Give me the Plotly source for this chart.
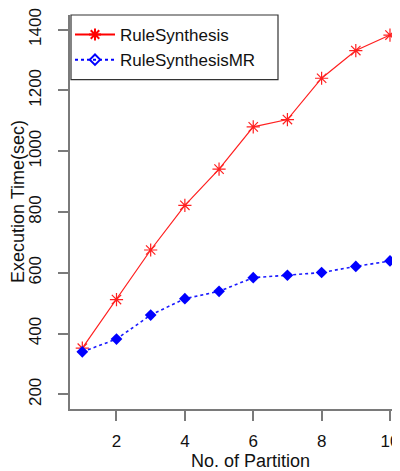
import plotly.graph_objects as go

partitions = [1, 2, 3, 4, 5, 6, 7, 8, 9, 10]
rule_synthesis = [352, 512, 675, 822, 941, 1080, 1104, 1240, 1331, 1382]
rule_synthesis_mr = [340, 382, 461, 515, 539, 584, 592, 601, 621, 639]
x_ticks = [2, 4, 6, 8, 10]
y_ticks = [200, 400, 600, 800, 1000, 1200, 1400]

FONT = "Liberation Sans, Arial, sans-serif"
AXIS_COLOR = "#7a7a7a"

fig = go.Figure()
fig.add_trace(go.Scatter(
    x=partitions, y=rule_synthesis, mode="lines+markers", name="RuleSynthesis",
    line=dict(color="#ff2020", width=1.2),
    marker=dict(symbol="asterisk-open", size=11, color="#ff2020", line=dict(color="#ff2020", width=1.2)),
    showlegend=False,
))
fig.add_trace(go.Scatter(
    x=partitions, y=rule_synthesis_mr, mode="lines+markers", name="RuleSynthesisMR",
    line=dict(color="#1a1aff", width=1.6, dash="dot"),
    marker=dict(symbol="diamond", size=9, color="#0000ff"),
    showlegend=False,
))
# legend entries (as in the reference legend)
fig.add_trace(go.Scatter(
    x=[None], y=[None], mode="lines+markers", name="RuleSynthesis",
    line=dict(color="#ff0000", width=2),
    marker=dict(symbol="asterisk-open", size=10, color="#ff0000", line=dict(color="#ff0000", width=2)),
))
fig.add_trace(go.Scatter(
    x=[None], y=[None], mode="lines+markers", name="RuleSynthesisMR",
    line=dict(color="#0000ff", width=2, dash="dot"),
    marker=dict(symbol="diamond-open", size=8, color="#0000ff", line=dict(color="#0000ff", width=2)),
))

# the page body has an 8px margin, so the figure is placed at (8, 8) in the window
OFF = 8
W, H = 400 - OFF, 471 - OFF
L, R, T, B = 70 - OFF, 0, 13 - OFF, 62
pw = W - L - R
ph = H - T - B


def px(xs):  # window x -> paper x
    return (xs - OFF - L) / pw


def py(ys):  # window y -> paper y
    return 1 - (ys - OFF - T) / ph


fig.update_layout(
    width=W, height=H,
    margin=dict(l=L, r=R, t=T, b=B, pad=0),
    paper_bgcolor="white", plot_bgcolor="white",
    font=dict(family=FONT, size=17, color="#111"),
    showlegend=True,
    legend=dict(
        x=px(70), y=py(15), xanchor="left", yanchor="top",
        bgcolor="rgba(0,0,0,0)", borderwidth=0,
        font=dict(family=FONT, size=17, color="#111"),
        itemwidth=40, tracegroupgap=0,
    ),
    xaxis=dict(
        range=[0.64, 10.293], tickvals=x_ticks, ticktext=[str(v) for v in x_ticks],
        showgrid=False, zeroline=False, showline=True, linecolor=AXIS_COLOR, linewidth=1.5,
        ticks="outside", ticklen=10, tickwidth=1.5, tickcolor=AXIS_COLOR,
        tickfont=dict(family=FONT, size=17, color="#111"), ticklabelstandoff=6,
        ticklabeloverflow="allow", fixedrange=True,
    ),
    yaxis=dict(
        range=[152, 1448], tickvals=y_ticks, ticktext=[str(v) for v in y_ticks],
        showgrid=False, zeroline=False, showline=True, linecolor=AXIS_COLOR, linewidth=1.5,
        ticks="outside", ticklen=10, tickwidth=1.5, tickcolor=AXIS_COLOR, tickangle=-90,
        tickfont=dict(family=FONT, size=17, color="#111"), ticklabelstandoff=10,
        ticklabeloverflow="allow", fixedrange=True,
    ),
    shapes=[dict(
        type="rect", xref="paper", yref="paper",
        x0=px(71), x1=px(278), y0=py(78), y1=py(13),
        line=dict(color="#333", width=1.2), fillcolor="white", layer="above",
    )],
    annotations=[
        dict(text="No. of Partition", xref="paper", yref="paper",
             x=px(250), y=py(461), xanchor="center", yanchor="middle",
             showarrow=False, font=dict(family=FONT, size=18, color="#111")),
        dict(text="Execution Time(sec)", xref="paper", yref="paper",
             x=px(18), y=py(201), xanchor="center", yanchor="middle",
             textangle=-90, showarrow=False, font=dict(family=FONT, size=18, color="#111")),
    ],
)

fig.write_html("out.html")
